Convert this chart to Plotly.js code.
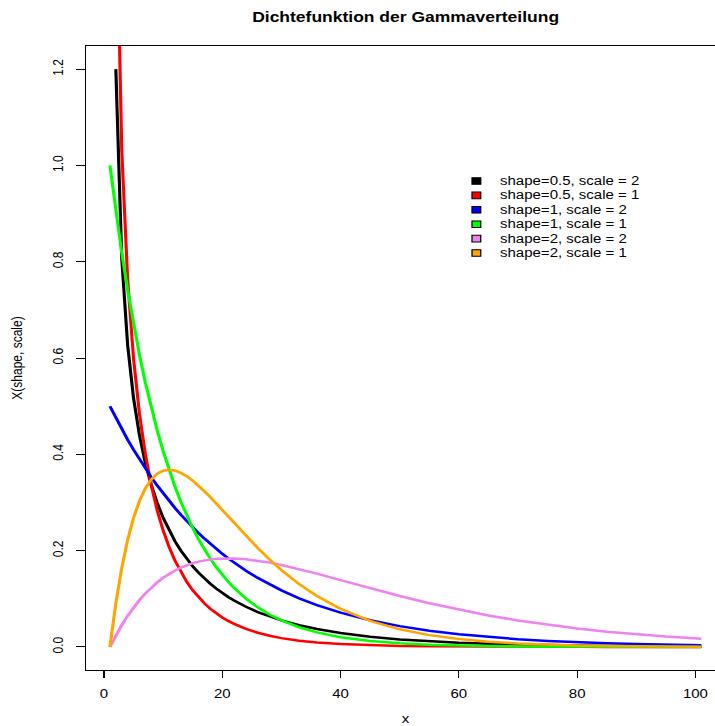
<!DOCTYPE html>
<html>
<head>
<meta charset="utf-8">
<script src="https://cdn.plot.ly/plotly-3.0.1.min.js"></script>
<style>
  html, body { margin: 0; padding: 0; overflow: hidden; background: #fff; width: 715px; height: 726px; }
  #chart { width: 580px; height: 726px; transform: scaleX(1.25); transform-origin: 0 0; }
</style>
</head>
<body>
<div id="chart"></div>
<script>
// Index positions (x) at which the densities were read
const xIndex = [1,2,3,4,5,6,7,8,9,10,11,12,13,14,15,16,17,18,19,20,21,22,24,26,28,30,33,36,40,45,50,55,60,65,70,75,80,85,90,95,101];

// shape=0.5, scale=2 (no value at index 1)
const black = [null,1.2000,0.8072,0.6269,0.5164,0.4394,0.3815,0.3360,0.2990,0.2681,0.2420,0.2195,0.1999,0.1827,0.1674,0.1539,0.1417,0.1308,0.1209,0.1119,0.1038,0.0963,0.0833,0.0723,0.0629,0.0550,0.0450,0.0371,0.0287,0.0211,0.0156,0.0115,0.0086,0.0064,0.0048,0.0036,0.0027,0.0021,0.0016,0.0012,0.0009];
// shape=0.5, scale=1 (no value at index 1)
const red = [null,1.6143,1.0329,0.7631,0.5980,0.4839,0.3997,0.3349,0.2834,0.2418,0.2076,0.1791,0.1551,0.1349,0.1176,0.1028,0.0901,0.0791,0.0695,0.0612,0.0540,0.0477,0.0373,0.0293,0.0231,0.0182,0.0129,0.0091,0.0058,0.0033,0.0019,0.0011,0.0006,0.0004,0.0002,0.0001,0.0001,0.0000,0.0000,0.0000,0.0000];
// shape=1, scale=2
const blue = [0.5000,0.4756,0.4524,0.4304,0.4094,0.3894,0.3704,0.3523,0.3352,0.3188,0.3033,0.2885,0.2744,0.2610,0.2483,0.2362,0.2247,0.2137,0.2033,0.1934,0.1839,0.1750,0.1583,0.1433,0.1296,0.1173,0.1009,0.0869,0.0711,0.0554,0.0431,0.0336,0.0262,0.0204,0.0159,0.0124,0.0096,0.0075,0.0058,0.0045,0.0034];
// shape=1, scale=1
const green = [1.0000,0.9048,0.8187,0.7408,0.6703,0.6065,0.5488,0.4966,0.4493,0.4066,0.3679,0.3329,0.3012,0.2725,0.2466,0.2231,0.2019,0.1827,0.1653,0.1496,0.1353,0.1225,0.1003,0.0821,0.0672,0.0550,0.0408,0.0302,0.0202,0.0123,0.0074,0.0045,0.0027,0.0017,0.0010,0.0006,0.0004,0.0002,0.0001,0.0001,0.0000];
// shape=2, scale=2
const violet = [0.0000,0.0238,0.0452,0.0646,0.0819,0.0974,0.1111,0.1233,0.1341,0.1435,0.1516,0.1587,0.1646,0.1697,0.1738,0.1771,0.1797,0.1817,0.1830,0.1837,0.1839,0.1837,0.1821,0.1791,0.1750,0.1701,0.1615,0.1521,0.1387,0.1219,0.1057,0.0907,0.0772,0.0652,0.0548,0.0457,0.0380,0.0315,0.0260,0.0214,0.0169];
// shape=2, scale=1
const orange = [0.0000,0.0905,0.1637,0.2222,0.2681,0.3033,0.3293,0.3476,0.3595,0.3659,0.3679,0.3662,0.3614,0.3543,0.3452,0.3347,0.3230,0.3106,0.2975,0.2842,0.2707,0.2572,0.2306,0.2052,0.1815,0.1596,0.1304,0.1057,0.0789,0.0540,0.0365,0.0244,0.0162,0.0106,0.0070,0.0045,0.0029,0.0019,0.0012,0.0008,0.0005];

const seriesNames = ["shape=0.5, scale = 2","shape=0.5, scale = 1","shape=1, scale = 2","shape=1, scale = 1","shape=2, scale = 2","shape=2, scale = 1"];
const seriesValues = [black, red, blue, green, violet, orange];
const seriesColors = ["#000000","#FF0000","#0000FF","#00FF00","#EE82EE","#FFA500"];

const xTicks = [0,20,40,60,80,100];
const yTicks = [0,0.2,0.4,0.6,0.8,1.0,1.2];

const FONT = "Liberation Sans, Arial, Helvetica, sans-serif";

const traces = seriesValues.map((vals, k) => ({
  type: "scatter", mode: "lines", x: xIndex, y: vals, name: seriesNames[k],
  line: { color: seriesColors[k], width: 2.5 }, connectgaps: false,
  showlegend: false, hoverinfo: "skip"
}));

// custom legend (R style, no box) laid out in pixels of the plot area
const plotL = 69, plotW = 511, plotT = 46, plotH = 624;
const px2x = p => (p - plotL) / plotW;
const py2y = p => (plotT + plotH - p) / plotH;
const shapes = [], annotations = [];
seriesNames.forEach((nm, k) => {
  const cy = 181 + 14.4 * k;
  shapes.push({ type: "rect", xref: "paper", yref: "paper",
    x0: px2x(377.6), x1: px2x(384.6), y0: py2y(cy + 3.3), y1: py2y(cy - 3.3),
    fillcolor: seriesColors[k], line: { color: "#000", width: 1 } });
  annotations.push({ xref: "paper", yref: "paper", x: px2x(397.5), y: py2y(cy),
    xanchor: "left", yanchor: "middle", text: nm, showarrow: false,
    font: { family: FONT, size: 12, color: "#000" } });
});

const layout = {
  width: 580, height: 726,
  margin: { l: plotL, r: 0, t: plotT, b: 56 },
  paper_bgcolor: "#fff", plot_bgcolor: "#fff",
  font: { family: FONT, size: 12, color: "#000" },
  title: { text: "Dichtefunktion der Gammaverteilung", x: 0.5, xref: "paper",
    y: 1 - 17 / 726, yref: "container", yanchor: "middle",
    font: { family: FONT, size: 14, weight: "bold", color: "#000" } },
  xaxis: {
    range: [-3, 105], tickmode: "array", tickvals: xTicks, ticktext: xTicks.map(String),
    showgrid: false, zeroline: false, showline: true, mirror: true,
    linecolor: "#000", linewidth: 1, ticks: "outside", ticklen: 7, tickwidth: 1, tickcolor: "#000",
    tickfont: { family: FONT, size: 12, color: "#000" }, ticklabelstandoff: 6,
    title: { text: "x", font: { family: FONT, size: 12, color: "#000" }, standoff: 18 },
    automargin: false
  },
  yaxis: {
    range: [-0.048, 1.248], tickmode: "array", tickvals: yTicks, ticktext: yTicks.map(v => v.toFixed(1)),
    tickangle: -90,
    showgrid: false, zeroline: false, showline: true, mirror: true,
    linecolor: "#000", linewidth: 1, ticks: "outside", ticklen: 7, tickwidth: 1, tickcolor: "#000",
    tickfont: { family: FONT, size: 12, color: "#000" }, ticklabelstandoff: 6,
    title: { text: "X(shape, scale)", font: { family: FONT, size: 12, color: "#000" }, standoff: 18 },
    automargin: false
  },
  shapes: shapes, annotations: annotations, showlegend: false
};

Plotly.newPlot("chart", traces, layout, { displayModeBar: false, staticPlot: true });
</script>
</body>
</html>
